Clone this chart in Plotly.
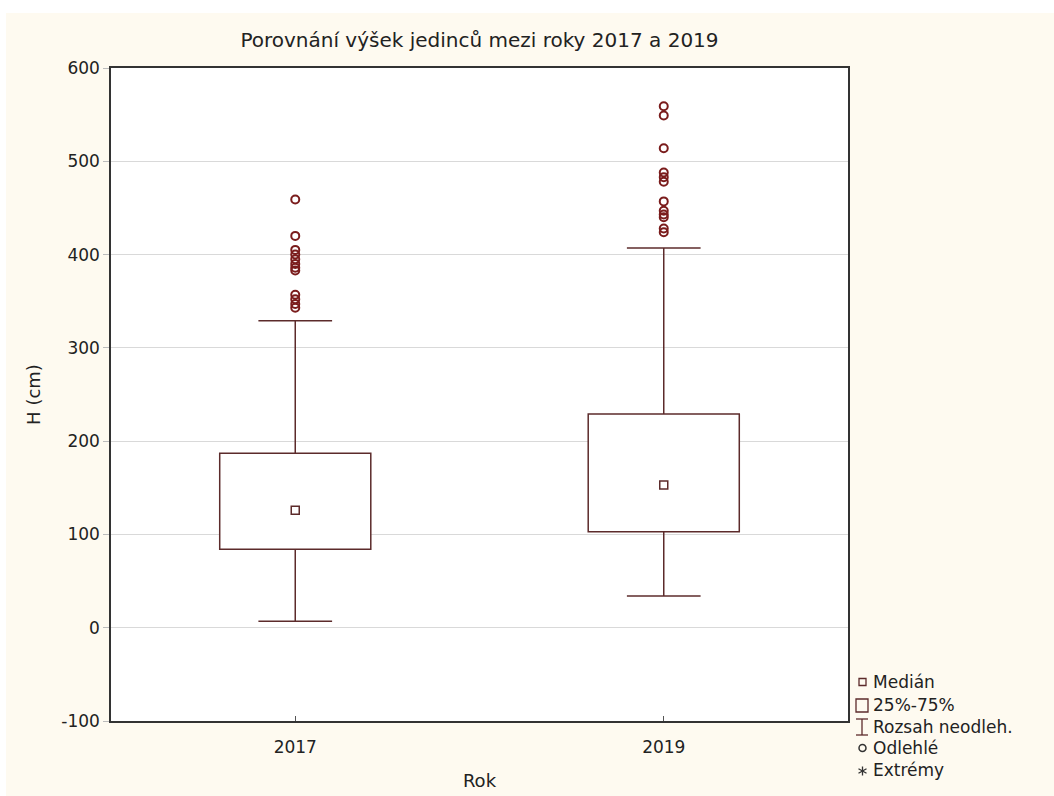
import plotly.graph_objects as go

# Height summary per year (cm)
years = ["2017", "2019"]
q1 = [84, 103]
median = [126, 153]
q3 = [187, 229]
whisker_low = [7, 34]
whisker_high = [329, 407]

outliers_2017 = [459, 420, 405, 400, 395, 390, 386, 383, 357, 352, 347, 343]
outliers_2019 = [559, 549, 514, 488, 483, 478, 457, 447, 443, 440, 428, 424]
outliers = [outliers_2017, outliers_2019]

y_ticks = [-100, 0, 100, 200, 300, 400, 500, 600]
y_tick_labels = ["-100", "0", "100", "200", "300", "400", "500", "600"]

legend_labels = ["Medián", "25%-75%", "Rozsah neodleh.", "Odlehlé", "Extrémy"]

FONT = "DejaVu Sans, Arial, Liberation Sans"
BOX_COLOR = "#5C2B2B"
DOT_COLOR = "#7A1C1C"
BG = "#FEFAF0"
W, H = 1054, 796
L, R, T, B = 111, 848, 68, 721

box_half = 0.205
cap_half = 0.1

fig = go.Figure()
shapes = []

for i in range(len(years)):
    # whisker stem and caps
    shapes.append(dict(type="line", xref="x", yref="y", x0=i, x1=i, y0=whisker_low[i], y1=q1[i],
                       line=dict(color=BOX_COLOR, width=1.5), layer="between"))
    shapes.append(dict(type="line", xref="x", yref="y", x0=i, x1=i, y0=q3[i], y1=whisker_high[i],
                       line=dict(color=BOX_COLOR, width=1.5), layer="between"))
    for yv in (whisker_low[i], whisker_high[i]):
        shapes.append(dict(type="line", xref="x", yref="y", x0=i - cap_half, x1=i + cap_half, y0=yv, y1=yv,
                           line=dict(color=BOX_COLOR, width=1.5), layer="between"))
    # interquartile box
    shapes.append(dict(type="rect", xref="x", yref="y", x0=i - box_half, x1=i + box_half, y0=q1[i], y1=q3[i],
                       fillcolor="white", line=dict(color=BOX_COLOR, width=1.5), layer="between"))

for i in range(len(years)):
    fig.add_trace(go.Scatter(
        x=[i] * len(outliers[i]), y=outliers[i], mode="markers",
        marker=dict(symbol="circle-open", size=8, color=DOT_COLOR, line=dict(width=2, color=DOT_COLOR)),
        showlegend=False, hoverinfo="y"))

fig.add_trace(go.Scatter(
    x=list(range(len(years))), y=median, mode="markers",
    marker=dict(symbol="square-open", size=8, color=BOX_COLOR, line=dict(width=1.5, color=BOX_COLOR)),
    showlegend=False, hoverinfo="y"))


def px(xp):
    return (xp - L) / (R - L)


def py(yp):
    return (B - yp) / (B - T)


# page background with a thin white edge at the top and left
shapes.append(dict(type="rect", xref="paper", yref="paper", x0=px(6), x1=px(W + 5), y0=py(W), y1=py(13),
                   fillcolor=BG, line=dict(width=0), layer="below"))
# plotting area
shapes.append(dict(type="rect", xref="paper", yref="paper", x0=0, x1=1, y0=0, y1=1,
                   fillcolor="white", line=dict(width=0), layer="below"))

# hand-built key
key_y = [682, 705, 727, 748, 770]
sym_x = 862
lc = "#5C2B2B"
# median square
shapes.append(dict(type="rect", xref="paper", yref="paper", x0=px(sym_x - 3), x1=px(sym_x + 4),
                   y0=py(key_y[0] + 3.5), y1=py(key_y[0] - 3.5), line=dict(color=lc, width=1.3)))
# quartile box
shapes.append(dict(type="rect", xref="paper", yref="paper", x0=px(856), x1=px(868),
                   y0=py(key_y[1] + 7), y1=py(key_y[1] - 6), line=dict(color=lc, width=1.3)))
# whisker range
shapes.append(dict(type="line", xref="paper", yref="paper", x0=px(sym_x), x1=px(sym_x),
                   y0=py(key_y[2] + 8), y1=py(key_y[2] - 8), line=dict(color=lc, width=1.3)))
for dy in (-8, 8):
    shapes.append(dict(type="line", xref="paper", yref="paper", x0=px(sym_x - 6), x1=px(sym_x + 6),
                       y0=py(key_y[2] + dy), y1=py(key_y[2] + dy), line=dict(color=lc, width=1.3)))
# outlier circle
shapes.append(dict(type="circle", xref="paper", yref="paper", x0=px(sym_x - 3), x1=px(sym_x + 4),
                   y0=py(key_y[3] + 3.5), y1=py(key_y[3] - 3.5), line=dict(color="#333333", width=1.5)))
# extreme asterisk
cx, cy = sym_x + 0.5, key_y[4] + 1
for (dx0, dy0, dx1, dy1) in [(0, -4.5, 0, 4.5), (-4, -2.3, 4, 2.3), (-4, 2.3, 4, -2.3)]:
    shapes.append(dict(type="line", xref="paper", yref="paper", x0=px(cx + dx0), x1=px(cx + dx1),
                       y0=py(cy + dy0), y1=py(cy + dy1), line=dict(color="#333333", width=1.3)))

annotations = []
for lab, yk in zip(legend_labels, key_y):
    annotations.append(dict(text=lab, xref="paper", yref="paper", x=px(871), y=py(yk),
                            xanchor="left", yanchor="middle", showarrow=False,
                            font=dict(family=FONT, size=17, color="#222222")))

fig.update_layout(
    width=W, height=H,
    margin=dict(l=L, r=W - R, t=T, b=H - B, pad=0, autoexpand=False),
    paper_bgcolor="white",
    plot_bgcolor="white",
    font=dict(family=FONT, size=17, color="#222222"),
    title=dict(text="Porovnání výšek jedinců mezi roky 2017 a 2019", x=(L + R) / 2 / W, xanchor="center",
               y=1 - 40 / H, yanchor="middle", font=dict(family=FONT, size=20, color="#222222")),
    shapes=shapes,
    annotations=annotations,
    showlegend=False,
)

fig.update_xaxes(
    range=[-0.5, 1.5], tickmode="array", tickvals=list(range(len(years))), ticktext=years,
    showgrid=False, zeroline=False, showline=True, linecolor="#333333", linewidth=1.5, mirror=True,
    ticks="inside", ticklen=5, tickcolor="#555555", ticklabelstandoff=10, automargin=False,
    title=dict(text="Rok", standoff=18, font=dict(size=18)),
)
fig.update_yaxes(
    range=[-100, 600], tickmode="array", tickvals=y_ticks, ticktext=y_tick_labels,
    showgrid=True, gridcolor="#D9D9D9", gridwidth=1, zeroline=False,
    showline=True, linecolor="#333333", linewidth=1.5, mirror=True, automargin=False,
    ticks="outside", ticklen=6, tickcolor="#BBBBBB",
    title=dict(text="H (cm)", standoff=16, font=dict(size=18)),
)

fig.write_html("out.html")
